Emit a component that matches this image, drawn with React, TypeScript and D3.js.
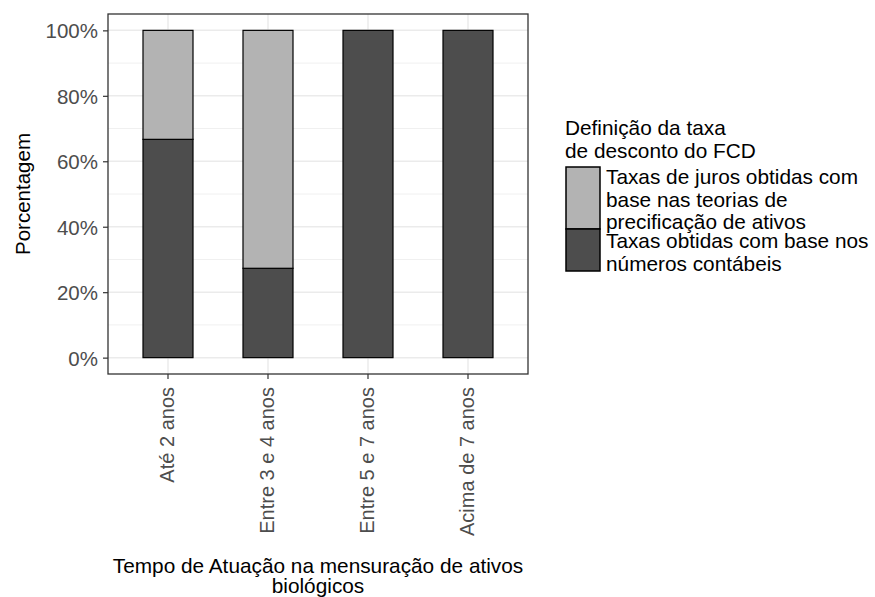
import React, { useRef, useEffect } from 'react';
import { select, scaleBand, scaleLinear, stack, axisLeft, axisBottom, range } from 'd3';

const categories = ['Até 2 anos', 'Entre 3 e 4 anos', 'Entre 5 e 7 anos', 'Acima de 7 anos'];
const contabeis = [0.667, 0.273, 1, 1];
const juros = [0.333, 0.727, 0, 0];
const yTicks = [0, 0.2, 0.4, 0.6, 0.8, 1];
const legendTitle = ['Definição da taxa', 'de desconto do FCD'];
const legendLabels = [
  ['Taxas de juros obtidas com', 'base nas teorias de', 'precificação de ativos'],
  ['Taxas obtidas com base nos', 'números contábeis'],
];

const W = 875;
const H = 597;
const panel = { left: 108, right: 528, top: 14, bottom: 374 };
const colors = { juros: '#b3b3b3', contabeis: '#4d4d4d' };
const font = '"Liberation Sans", Arial, sans-serif';

const App: React.FC = () => {
  const svgRef = useRef<SVGSVGElement>(null);

  useEffect(() => {
    const svg = select(svgRef.current as any);
    svg.selectAll('*').remove();

    const rows = categories.map((c, i) => ({ cat: c, contabeis: contabeis[i], juros: juros[i] }));

    const x = scaleBand<string>()
      .domain(categories)
      .range([panel.left, panel.right])
      .paddingInner(0.5)
      .paddingOuter(0.35);

    const y = scaleLinear().domain([-0.05, 1.05]).range([panel.bottom, panel.top]);

    // grid
    const grid = svg.append('g');
    const minor = range(0.1, 1, 0.2);
    grid
      .selectAll('.minor')
      .data(minor)
      .join('line')
      .attr('x1', panel.left)
      .attr('x2', panel.right)
      .attr('y1', d => y(d))
      .attr('y2', d => y(d))
      .attr('stroke', '#f0f0f0')
      .attr('stroke-width', 1);
    grid
      .selectAll('.major')
      .data(yTicks)
      .join('line')
      .attr('x1', panel.left)
      .attr('x2', panel.right)
      .attr('y1', d => y(d))
      .attr('y2', d => y(d))
      .attr('stroke', '#ebebeb')
      .attr('stroke-width', 1.5);
    grid
      .selectAll('.vmajor')
      .data(categories)
      .join('line')
      .attr('x1', d => (x(d) as number) + x.bandwidth() / 2)
      .attr('x2', d => (x(d) as number) + x.bandwidth() / 2)
      .attr('y1', panel.top)
      .attr('y2', panel.bottom)
      .attr('stroke', '#ebebeb')
      .attr('stroke-width', 1.5);

    // stacked bars, dark on the bottom
    const series = stack<any>().keys(['contabeis', 'juros'])(rows);
    svg
      .append('g')
      .selectAll('g')
      .data(series)
      .join('g')
      .attr('fill', s => (colors as any)[s.key])
      .selectAll('rect')
      .data(s => s.filter(d => d[1] - d[0] > 0))
      .join('rect')
      .attr('x', d => x(d.data.cat) as number)
      .attr('width', x.bandwidth())
      .attr('y', d => y(d[1]))
      .attr('height', d => y(d[0]) - y(d[1]))
      .attr('stroke', '#000')
      .attr('stroke-width', 1.2);

    // panel border
    svg
      .append('rect')
      .attr('x', panel.left)
      .attr('y', panel.top)
      .attr('width', panel.right - panel.left)
      .attr('height', panel.bottom - panel.top)
      .attr('fill', 'none')
      .attr('stroke', '#333333')
      .attr('stroke-width', 1.3);

    // y axis
    const gy = svg
      .append('g')
      .attr('transform', `translate(${panel.left},0)`)
      .call(
        axisLeft(y)
          .tickValues(yTicks)
          .tickSize(5)
          .tickPadding(5)
          .tickFormat(d => `${Math.round((d as number) * 100)}%`) as any,
      );
    gy.select('.domain').remove();
    gy.selectAll('line').attr('stroke', '#333333').attr('stroke-width', 1.2);
    gy.selectAll('text')
      .attr('fill', '#4d4d4d')
      .attr('font-size', 20.5)
      .attr('font-family', font)
      .attr('dy', '0.36em');

    // x axis
    const gx = svg
      .append('g')
      .attr('transform', `translate(0,${panel.bottom})`)
      .call(axisBottom(x).tickSize(5).tickPadding(0) as any);
    gx.select('.domain').remove();
    gx.selectAll('line').attr('stroke', '#333333').attr('stroke-width', 1.2);
    gx.selectAll('text')
      .attr('fill', '#4d4d4d')
      .attr('font-size', 20)
      .attr('font-family', font)
      .attr('text-anchor', 'end')
      .attr('transform', 'rotate(-90)')
      .attr('x', -13)
      .attr('y', 0)
      .attr('dy', '0.3em');

    // axis titles
    svg
      .append('text')
      .attr('transform', `translate(30,${(panel.top + panel.bottom) / 2}) rotate(-90)`)
      .attr('text-anchor', 'middle')
      .attr('font-size', 20.5)
      .attr('font-family', font)
      .attr('fill', '#000')
      .text('Porcentagem');

    const xTitle = svg
      .append('text')
      .attr('text-anchor', 'middle')
      .attr('font-size', 20.8)
      .attr('font-family', font)
      .attr('fill', '#000');
    xTitle
      .selectAll('tspan')
      .data(['Tempo de Atuação na mensuração de ativos', 'biológicos'])
      .join('tspan')
      .attr('x', (panel.left + panel.right) / 2)
      .attr('y', (_, i) => 573 + i * 19.5)
      .text(d => d);

    // legend
    const lg = svg.append('g').attr('font-family', font).attr('font-size', 20.8).attr('fill', '#000');
    lg.selectAll('.lt')
      .data(legendTitle)
      .join('text')
      .attr('x', 565)
      .attr('y', (_, i) => 135 + i * 22.5)
      .text(d => d);

    const keyX = 566;
    const keyW = 34;
    const keyTops = [167, 229];
    const keyHeights = [62, 42];
    const keyFills = [colors.juros, colors.contabeis];
    legendLabels.forEach((lines, k) => {
      lg.append('rect')
        .attr('x', keyX)
        .attr('y', keyTops[k])
        .attr('width', keyW)
        .attr('height', keyHeights[k])
        .attr('fill', keyFills[k])
        .attr('stroke', '#000')
        .attr('stroke-width', 1.5);
      const baseY = k === 0 ? 184 : 248;
      lg.append('text')
        .selectAll('tspan')
        .data(lines)
        .join('tspan')
        .attr('x', 606)
        .attr('y', (_, i) => baseY + i * 22.5)
        .text(d => d);
    });
  }, []);

  return (
    <svg
      ref={svgRef}
      width={W}
      height={H}
      style={{ position: 'absolute', left: 0, top: 0, background: '#fff' }}
    ></svg>
  );
};

export default App;
